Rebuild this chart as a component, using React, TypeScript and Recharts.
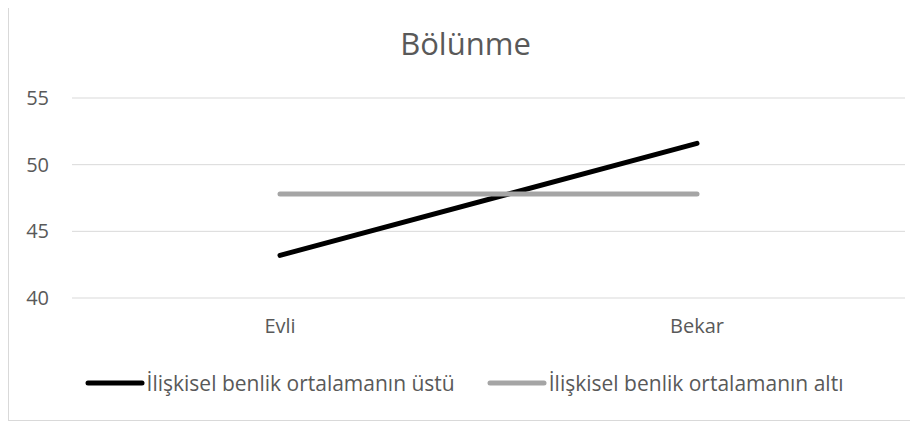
import {FC} from "react";
import {LineChart, Line, XAxis, YAxis, CartesianGrid, Legend} from 'recharts'

const categories = ['Evli', 'Bekar']
const ustuValues = [43.2, 51.6]
const altiValues = [47.8, 47.8]
const yTicks = [40, 45, 50, 55]
const seriesNames = ['İlişkisel benlik ortalamanın üstü', 'İlişkisel benlik ortalamanın altı']
const seriesColors = ['#000000', '#a5a5a5']

const data = categories.map((c, i) => ({name: c, ustu: ustuValues[i], alti: altiValues[i]}))

const font = "'Open Sans', sans-serif"
const textColor = '#595959'

const ChartLegend: FC = () => (
    <div style={{display: 'flex', justifyContent: 'center', alignItems: 'center', height: 46, paddingLeft: 14, fontFamily: font, fontSize: 21, color: textColor}}>
        {seriesNames.map((n, i) => (
            <div key={n} style={{display: 'flex', alignItems: 'center', marginRight: i === 0 ? 32 : 0}}>
                <svg width={60} height={8} style={{marginRight: 2}}>
                    <line x1={3} y1={4} x2={57} y2={4} stroke={seriesColors[i]} strokeWidth={5} strokeLinecap='round'/>
                </svg>
                <span>{n}</span>
            </div>
        ))}
    </div>
)

export default function App() {
    return (
        <div style={{position: 'relative', marginTop: -8, width: 910, height: 421, boxSizing: 'border-box', borderLeft: '1px solid #d9d9d9', borderBottom: '1px solid #d9d9d9'}}>
            <div style={{position: 'absolute', left: 0, top: 28, width: 909, paddingLeft: 4, boxSizing: 'border-box', textAlign: 'center', fontFamily: font, fontSize: 31, lineHeight: 1, color: textColor}}>
                Bölünme
            </div>
            <div style={{position: 'absolute', left: 0, top: 0}}>
                <LineChart width={909} height={420} data={data} margin={{top: 98, right: 13, bottom: 14, left: 0}}>
                    <CartesianGrid vertical={false} stroke='#d9d9d9'/>
                    <XAxis dataKey='name' axisLine={false} tickLine={false} tickMargin={15} height={62}
                           padding={{left: 208, right: 208}}
                           tick={{fill: textColor, fontSize: 20, fontFamily: font}}/>
                    <YAxis domain={[40, 55]} ticks={yTicks} axisLine={false} tickLine={false} tickMargin={17} width={63}
                           tick={{fill: textColor, fontSize: 20, fontFamily: font}}/>
                    <Legend verticalAlign='bottom' height={46} content={() => <ChartLegend/>}/>
                    <Line dataKey='ustu' name={seriesNames[0]} stroke={seriesColors[0]} strokeWidth={5} strokeLinecap='round'
                          dot={false} activeDot={false} isAnimationActive={false}/>
                    <Line dataKey='alti' name={seriesNames[1]} stroke={seriesColors[1]} strokeWidth={5} strokeLinecap='round'
                          dot={false} activeDot={false} isAnimationActive={false}/>
                </LineChart>
            </div>
        </div>
    )
}
